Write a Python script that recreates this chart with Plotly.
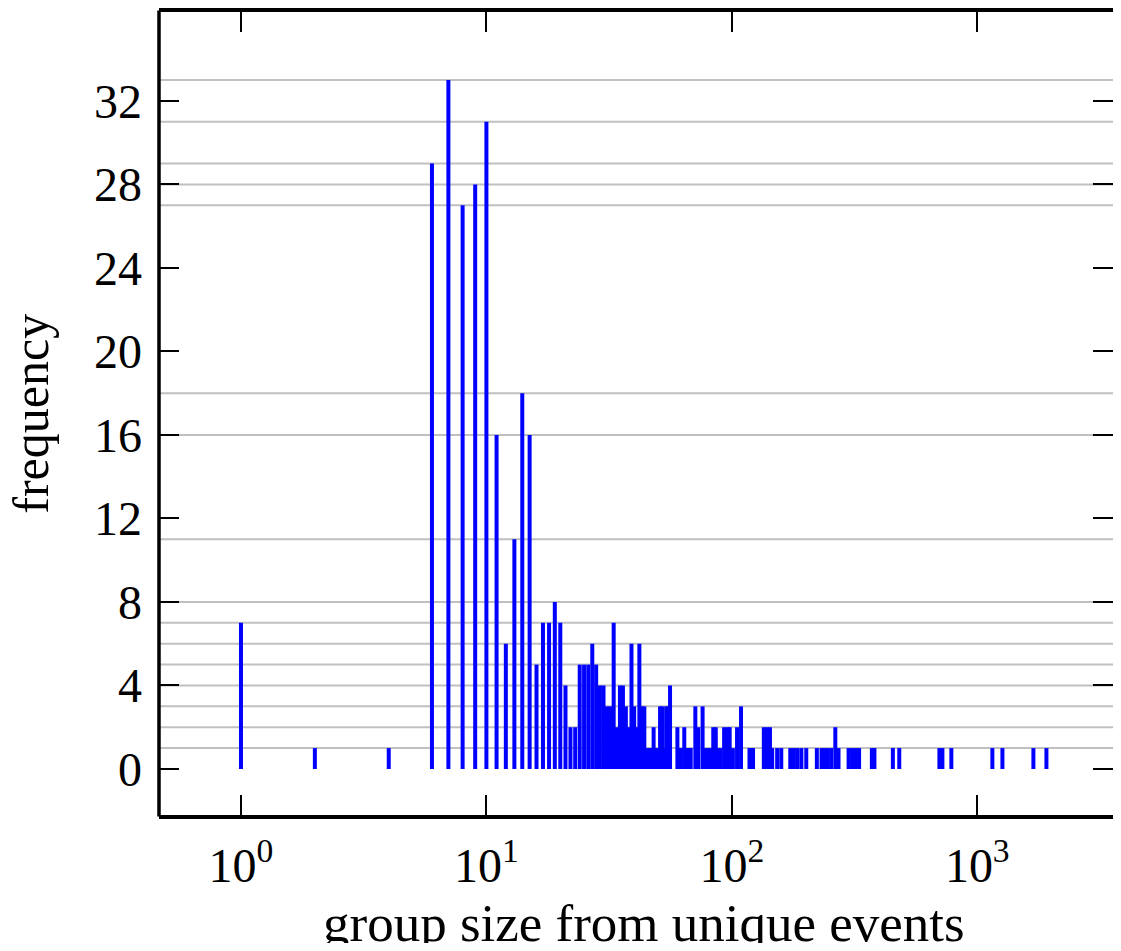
import plotly.graph_objects as go

# group size (x) and its frequency (y)
group_size = [1, 2, 4, 6, 7, 8, 9, 10, 11, 12, 13, 14, 15, 16, 17, 18, 19, 20,
              21, 22, 23, 24, 25, 26, 27, 28, 29, 30, 31, 32, 33, 34, 35, 36,
              37, 38, 39, 40, 41, 42, 43, 44, 45, 46, 47, 48, 49, 50, 51, 52,
              53, 54, 55, 56, 60, 61, 62, 64, 66, 67, 68, 71, 73, 76, 78, 80,
              82, 84, 86, 88, 90, 93, 96, 98, 101, 105, 109, 118, 120, 122,
              135, 139, 143, 146, 153, 159, 173, 179, 185, 192, 201, 222, 232,
              238, 246, 254, 264, 272, 299, 309, 320, 330, 372, 381, 453, 481,
              701, 721, 784, 1152, 1266, 1693, 1913]
frequency = [7, 1, 1, 29, 33, 27, 28, 31, 16, 6, 11, 18, 16, 5, 7, 7, 8, 7,
             4, 2, 2, 5, 5, 5, 6, 5, 4, 4, 3, 3, 7, 2, 4, 4,
             3, 2, 6, 3, 2, 6, 3, 3, 1, 1, 1, 2, 1, 1, 3, 3,
             1, 3, 3, 4, 2, 1, 1, 2, 1, 1, 1, 3, 2, 3, 1, 1,
             1, 2, 2, 1, 1, 2, 2, 2, 1, 2, 3, 1, 1, 1,
             2, 2, 2, 1, 1, 1, 1, 1, 1, 1, 1, 1, 1,
             1, 1, 1, 2, 1, 1, 1, 1, 1, 1, 1, 1, 1,
             1, 1, 1, 1, 1, 1, 1]

x_tickvals = [1, 10, 100, 1000]
x_ticktext = ["10<sup>0</sup>", "10<sup>1</sup>", "10<sup>2</sup>", "10<sup>3</sup>"]
y_tickvals = [0, 4, 8, 12, 16, 20, 24, 28, 32]
x_title = "group size from unique events"
y_title = "frequency"

FONT = "Liberation Serif"

# vertical bars drawn as line segments (constant pixel width on log axis)
xs, ys = [], []
for g, f in zip(group_size, frequency):
    xs += [g, g, None]
    ys += [0, f, None]

fig = go.Figure()
fig.add_trace(go.Scatter(x=xs, y=ys, mode="lines",
                         line=dict(color="#0000ff", width=4),
                         hoverinfo="skip", showlegend=False))

# horizontal grid lines at every observed frequency value
shapes = []
for level in sorted(set(frequency)):
    shapes.append(dict(type="line", xref="paper", x0=0, x1=1, yref="y",
                       y0=level, y1=level, layer="below",
                       line=dict(color="#c0c0c0", width=2)))
# left spine (the right side of the frame lies outside the picture)
shapes.append(dict(type="line", xref="paper", yref="paper", x0=0, x1=0,
                   y0=-0.002, y1=1.002, layer="above",
                   line=dict(color="black", width=3.5)))

fig.update_layout(
    width=1105, height=935,
    margin=dict(l=151, r=0, t=4, b=128),
    paper_bgcolor="white", plot_bgcolor="white",
    font=dict(family=FONT, color="black", size=48),
    shapes=shapes,
    annotations=[
        dict(text=x_title, xref="paper", yref="paper",
             x=0.508, y=-0.134, xanchor="center", yanchor="middle",
             showarrow=False, font=dict(family=FONT, size=53)),
        dict(text=y_title, xref="paper", yref="paper", textangle=-90,
             x=-0.135, y=0.5, xanchor="center", yanchor="middle",
             showarrow=False, font=dict(family=FONT, size=50)),
    ],
    xaxis=dict(type="log", range=[-0.334, 3.553],
               tickvals=x_tickvals, ticktext=x_ticktext,
               ticks="inside", ticklen=20, tickwidth=2, tickcolor="black",
               showline=True, linewidth=3.5, linecolor="black", mirror="ticks",
               showgrid=False, zeroline=False, automargin=False,
               tickfont=dict(family=FONT, size=48),
               ticklabelstandoff=6),
    yaxis=dict(range=[-2.204, 36.26], tickvals=y_tickvals,
               ticks="inside", ticklen=20, tickwidth=2, tickcolor="black",
               showline=False, mirror="ticks",
               showgrid=False, zeroline=False, automargin=False,
               tickfont=dict(family=FONT, size=48),
               ticklabelstandoff=16),
)

fig.write_html("out.html")
